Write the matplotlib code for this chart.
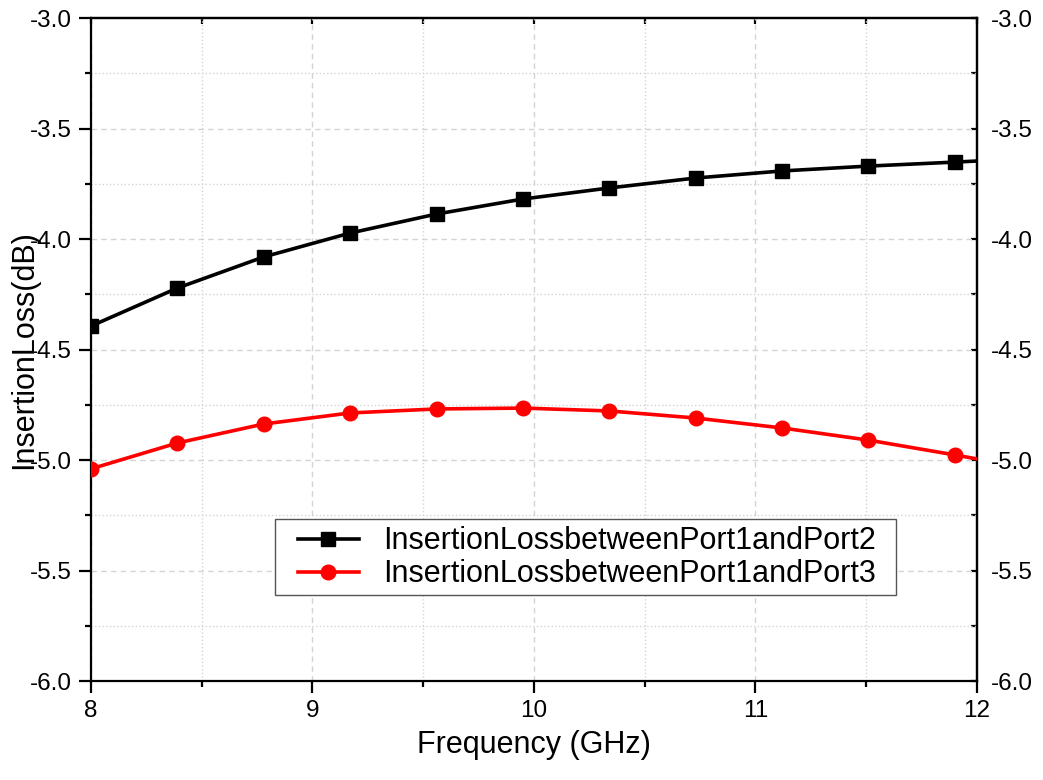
import matplotlib
matplotlib.use("Agg")
import matplotlib.pyplot as plt
from matplotlib.patches import Rectangle
from matplotlib.ticker import MultipleLocator, FormatStrFormatter

plt.rcParams['font.family'] = ['Liberation Sans', 'DejaVu Sans']

# data
freq = [8.0, 8.39, 8.78, 9.17, 9.56, 9.95, 10.34, 10.73, 11.12, 11.51, 11.9, 12.0]
il_12 = [-4.394, -4.222, -4.081, -3.973, -3.887, -3.819, -3.769, -3.724, -3.692, -3.670, -3.652, -3.647]
il_13 = [-5.04, -4.923, -4.837, -4.787, -4.769, -4.765, -4.778, -4.81, -4.855, -4.91, -4.977, -4.995]
lab_12 = 'InsertionLossbetweenPort1andPort2'
lab_13 = 'InsertionLossbetweenPort1andPort3'
mark_idx = list(range(11))  # last point (12 GHz) has no marker

fig = plt.figure(figsize=(10.43, 7.8), dpi=100)
ax = fig.add_axes([0.0872, 0.1269, 0.8495, 0.85])

ax.plot(freq, il_12, color='black', lw=2.6, marker='s', ms=9.5, markevery=mark_idx, label=lab_12, zorder=3)
ax.plot(freq, il_13, color='red', lw=2.6, marker='o', ms=10.5, markevery=mark_idx, label=lab_13, zorder=3)

ax.set_xlim(8, 12)
ax.set_ylim(-6, -3)
ax.xaxis.set_major_locator(MultipleLocator(1))
ax.xaxis.set_minor_locator(MultipleLocator(0.5))
ax.yaxis.set_major_locator(MultipleLocator(0.5))
ax.yaxis.set_minor_locator(MultipleLocator(0.25))
ax.yaxis.set_major_formatter(FormatStrFormatter('%.1f'))

ax.grid(which='major', color='#d4d4d4', ls='--', lw=1.0, dashes=(4, 3))
ax.grid(which='minor', color='#d4d4d4', ls=':', lw=1.0)

for s in ax.spines.values():
    s.set_linewidth(1.6)

ax.tick_params(which='major', direction='out', length=8.5, width=1.6, labelsize=17.5, pad=5, colors='black')
ax.tick_params(which='minor', direction='out', length=4.5, width=1.6)
ax.tick_params(axis='x', which='major', pad=5)

# mirrored axes on top and right, ticks pointing inward
top = ax.secondary_xaxis('top')
top.xaxis.set_major_locator(MultipleLocator(1))
top.xaxis.set_minor_locator(MultipleLocator(0.5))
top.tick_params(which='both', direction='in', length=4.5, width=1.6, labeltop=False)
top.spines['top'].set_linewidth(1.6)

right = ax.secondary_yaxis('right')
right.yaxis.set_major_locator(MultipleLocator(0.5))
right.yaxis.set_minor_locator(MultipleLocator(0.25))
right.yaxis.set_major_formatter(FormatStrFormatter('%.1f'))
right.tick_params(which='both', direction='in', length=4.5, width=1.6, labelsize=17.5, pad=10)
right.spines['right'].set_linewidth(1.6)

ax.set_xlabel('Frequency (GHz)', fontsize=22, labelpad=6)
ax.set_ylabel('InsertionLoss(dB)', fontsize=22)
ax.yaxis.set_label_coords(-0.058, 0.5)

leg = ax.legend(loc='upper left', bbox_to_anchor=(0.2246, 0.245), fontsize=22, frameon=False,
                handlelength=2.0, borderpad=0.25, labelspacing=0.1, handletextpad=0.8,
                borderaxespad=0)

# legend frame: wider padding on the left than matplotlib's uniform borderpad
fig.canvas.draw()
bb = leg.get_window_extent(fig.canvas.get_renderer())
x0, y0 = fig.transFigure.inverted().transform((bb.x0 - 15, bb.y0 + 2))
x1, y1 = fig.transFigure.inverted().transform((bb.x1 + 12, bb.y1))
fig.add_artist(Rectangle((x0, y0), x1 - x0, y1 - y0, transform=fig.transFigure,
                         facecolor='white', edgecolor='#555555', lw=1.0, zorder=4))
leg.set_zorder(5)
fig.add_artist(leg)

fig.savefig('out.png', dpi=100)
